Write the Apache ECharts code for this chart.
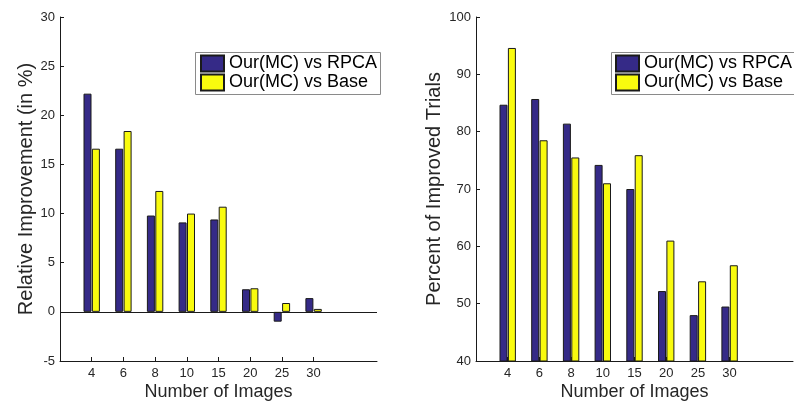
<!doctype html>
<html>
<head>
    <title>Improvement bars</title>
    <script src="https://cdn.jsdelivr.net/npm/echarts@6/dist/echarts.min.js"></script>
</head>
<style>
    html, body { margin: 0; padding: 0; background: #fff; }
    #main { width: 794px; height: 405px; }
</style>
<body>
<div id="main"></div>
<script>
  // number of images used per trial
  var categories = ['4', '6', '8', '10', '15', '20', '25', '30'];
  var seriesNames = ['Our(MC) vs RPCA', 'Our(MC) vs Base'];

  // left: relative improvement (in %)
  var relRPCA = [22.2, 16.6, 9.8, 9.1, 9.4, 2.3, -1.0, 1.4];
  var relBase = [16.6, 18.4, 12.3, 10.0, 10.7, 2.4, 0.9, 0.3];

  // right: percent of improved trials
  var pctRPCA = [84.7, 85.7, 81.4, 74.2, 70.0, 52.2, 48.0, 49.5];
  var pctBase = [94.6, 78.5, 75.5, 71.0, 75.9, 61.0, 53.9, 56.7];

  var FONT = '"Liberation Sans", Arial, Helvetica, sans-serif';
  var TXT = '#262626';
  var BLUE = '#352a87';
  var YELLOW = '#f9fb0e';

  // matlab style x range 0..10 with the groups sitting on 1..8
  var xCats = [''].concat(categories, ['', '']);
  function pad(arr) {
    return [null].concat(arr, [null, null]);
  }

  function xAxisFor(gi) {
    return {
      type: 'category',
      gridIndex: gi,
      data: xCats,
      boundaryGap: false,
      name: 'Number of Images',
      nameLocation: 'middle',
      nameGap: 16,
      nameMoveOverlap: false,
      nameTextStyle: { fontFamily: FONT, fontSize: 18, color: TXT },
      axisLine: { onZero: false, lineStyle: { color: '#1a1a1a', width: 1 } },
      axisTick: {
        inside: true, length: 4,
        interval: function (i) { return i >= 1 && i <= 8; },
        lineStyle: { color: '#1a1a1a' }
      },
      axisLabel: { interval: 0, fontFamily: FONT, fontSize: 13, color: TXT, margin: 1 },
      splitLine: { show: false }
    };
  }

  function yAxisFor(gi, min, max, step, title, gap) {
    return {
      type: 'value',
      gridIndex: gi,
      min: min, max: max, interval: step,
      name: title,
      nameLocation: 'middle',
      nameGap: gap,
      nameMoveOverlap: false,
      nameTextStyle: { fontFamily: FONT, fontSize: 20, color: TXT },
      axisLine: { show: true, onZero: false, lineStyle: { color: '#1a1a1a', width: 1 } },
      axisTick: { show: true, inside: true, length: 4, lineStyle: { color: '#1a1a1a' } },
      axisLabel: { fontFamily: FONT, fontSize: 13, color: TXT, margin: 5 },
      splitLine: { show: false }
    };
  }

  function barSeries(name, data, color, gi, extra) {
    var s = {
      name: name,
      type: 'bar',
      xAxisIndex: gi,
      yAxisIndex: gi,
      data: pad(data),
      barWidth: 8,
      barGap: '5%',
      itemStyle: { color: color, borderColor: '#1a1a1a', borderWidth: 1 },
      emphasis: { disabled: true }
    };
    if (extra) {
      for (var k in extra) s[k] = extra[k];
    }
    return s;
  }

  // one legend per entry so the rows sit tight like matlab's
  function legendItem(name, left, top) {
    return {
      data: [name],
      left: left,
      top: top,
      itemWidth: 23,
      itemHeight: 16,
      padding: 0,
      selectedMode: false,
      icon: 'rect',
      z: 5,
      textStyle: { fontFamily: FONT, fontSize: 18, color: '#000' }
    };
  }

  function legendBox(left, width) {
    return {
      type: 'rect',
      left: left, top: 52,
      shape: { width: width, height: 42 },
      style: { fill: '#fff', stroke: '#8a8a8a', lineWidth: 1 },
      z: 3,
      silent: true
    };
  }

  var chart = echarts.init(document.getElementById('main'), null, { renderer: 'canvas' });

  var option = {
    backgroundColor: '#fff',
    animation: false,
    grid: [
      { left: 60, top: 17, width: 317, height: 344, containLabel: false, outerBoundsMode: 'none' },
      { left: 476, top: 17, width: 317, height: 344, containLabel: false, outerBoundsMode: 'none' }
    ],
    graphic: [legendBox(195, 185), legendBox(611, 188)],
    legend: [
      legendItem(seriesNames[0], 200, 48),
      legendItem(seriesNames[1], 200, 67),
      legendItem(seriesNames[0], 615, 48),
      legendItem(seriesNames[1], 615, 67)
    ],
    xAxis: [xAxisFor(0), xAxisFor(1)],
    yAxis: [
      yAxisFor(0, -5, 30, 5, 'Relative Improvement (in %)', 16),
      yAxisFor(1, 40, 100, 10, 'Percent of Improved Trials', 24)
    ],
    series: [
      barSeries(seriesNames[0], relRPCA, BLUE, 0, {
        markLine: {
          silent: true,
          symbol: 'none',
          label: { show: false },
          lineStyle: { color: '#1a1a1a', width: 1, type: 'solid' },
          data: [{ yAxis: 0 }]
        }
      }),
      barSeries(seriesNames[1], relBase, YELLOW, 0),
      barSeries(seriesNames[0], pctRPCA, BLUE, 1),
      barSeries(seriesNames[1], pctBase, YELLOW, 1)
    ]
  };

  chart.setOption(option);
</script>
</body>
</html>
